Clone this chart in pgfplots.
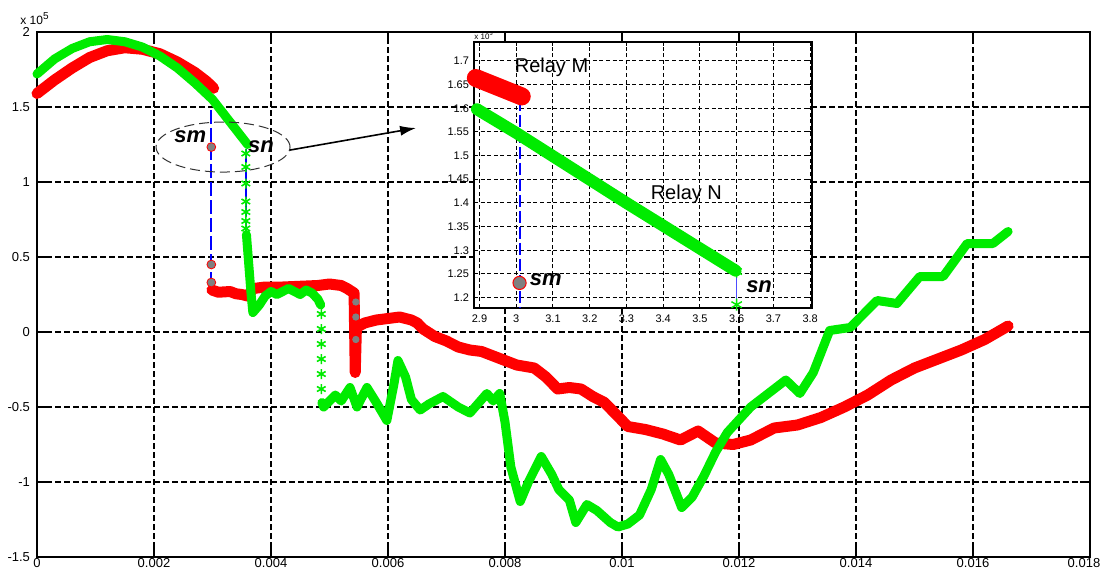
\documentclass[border=0pt]{standalone}
\usepackage{fontspec}
\setmainfont{Liberation Sans}
\usepackage{pgfplots}
\pgfplotsset{compat=1.18}
\usetikzlibrary{arrows.meta}
\definecolor{mred}{RGB}{255,0,0}
\definecolor{mgreen}{RGB}{0,235,0}
\definecolor{mgray}{RGB}{128,128,128}
\begin{document}
\begin{tikzpicture}
\begin{axis}[
  at={(0,0)}, anchor=south west,
  scale only axis, width=526.5pt, height=262.5pt,
  xmin=0, xmax=0.018, ymin=-1.5, ymax=2,
  scaled x ticks=false, scaled y ticks=false,
  xtick={0,0.002,0.004,0.006,0.008,0.01,0.012,0.014,0.016,0.018},
  xticklabels={0,0.002,0.004,0.006,0.008,0.01,0.012,0.014,0.016,{\hspace*{-6pt}0.018}},
  ytick={-1.5,-1,-0.5,0,0.5,1,1.5,2},
  yticklabels={-1.5,-1,-0.5,0,0.5,1,1.5,2},
  tick label style={font=\fontsize{6.5}{7}\selectfont},
  xticklabel style={inner sep=1pt, yshift=0.5pt},
  grid=major,
  major grid style={black, line width=0.6pt, dash pattern=on 3pt off 1.5pt},
  tick align=inside, major tick length=5pt,
  every tick/.style={black, line width=0.6pt},
  axis line style={black, line width=0.8pt},
  clip=false,
]
% blue dashed guide lines
\addplot[blue, line width=0.9pt, dash pattern=on 7pt off 2pt] coordinates {(0.00298,1.48) (0.00298,0.30)};
\addplot[blue, line width=0.9pt, dash pattern=on 7pt off 2pt] coordinates {(0.00357,1.22) (0.00357,0.55)};
% Relay M (red)
\addplot[mred, line width=5.5pt, line cap=round, line join=round] coordinates {
(0,1.59)(0.0003,1.68)(0.0006,1.76)(0.0009,1.83)(0.0012,1.875)(0.0015,1.895)(0.0018,1.885)
(0.0021,1.855)(0.0024,1.80)(0.0027,1.73)(0.0029,1.67)(0.00302,1.625)};
\addplot[mred, line width=5.5pt, line cap=round, line join=round] coordinates {
(0.00299,0.28)(0.0031,0.265)(0.0033,0.27)(0.0034,0.255)(0.0035,0.25)(0.0036,0.24)(0.0037,0.29)
(0.0039,0.3)(0.0042,0.3)(0.0045,0.305)(0.0048,0.31)(0.005,0.32)(0.0052,0.31)(0.0053,0.29)(0.00542,0.26)
(0.00544,-0.27)(0.00546,0.03)(0.0056,0.06)(0.0058,0.08)(0.006,0.09)(0.0062,0.10)(0.0064,0.08)
(0.0065,0.06)(0.0066,0.02)(0.0068,-0.03)(0.007,-0.06)(0.0072,-0.1)(0.0074,-0.12)(0.0076,-0.13)
(0.0078,-0.16)(0.008,-0.19)(0.0082,-0.22)(0.0085,-0.24)(0.0087,-0.3)(0.0089,-0.38)(0.0091,-0.37)
(0.0093,-0.38)(0.0095,-0.43)(0.0097,-0.47)(0.0099,-0.55)(0.0101,-0.63)(0.0104,-0.65)(0.0107,-0.68)
(0.011,-0.72)(0.0113,-0.66)(0.0116,-0.74)(0.0119,-0.75)(0.0122,-0.72)(0.0126,-0.64)(0.013,-0.62)
(0.0134,-0.57)(0.0138,-0.50)(0.0142,-0.42)(0.0146,-0.32)(0.015,-0.24)(0.0154,-0.18)(0.0158,-0.12)
(0.0162,-0.05)(0.0166,0.04)};
% gray markers on the red drop at 0.0055
\addplot[only marks, mark=*, mark size=1.6pt, mark options={fill=mgray, draw=mgray}] coordinates {
(0.00545,0.2)(0.00545,0.1)(0.00545,-0.05)};
% Relay N (green)
\addplot[mgreen, line width=4.5pt, line cap=round, line join=round] coordinates {
(0,1.72)(0.0003,1.82)(0.0006,1.89)(0.0009,1.935)(0.0012,1.95)(0.0015,1.935)(0.0018,1.90)
(0.0021,1.84)(0.0024,1.76)(0.0027,1.66)(0.003,1.55)(0.0033,1.40)(0.0036,1.25)};
\addplot[only marks, mgreen, mark=asterisk, mark size=2.5pt, line width=0.8pt] coordinates {
(0.00357,1.19)(0.00357,1.1)(0.00357,0.99)(0.00357,0.87)(0.00357,0.80)(0.00357,0.74)(0.00357,0.69)
(0.00486,0.12)(0.00486,0.02)(0.00486,-0.08)(0.00486,-0.18)(0.00486,-0.28)(0.00486,-0.38)};
\addplot[mgreen, line width=4.5pt, line cap=round, line join=round] coordinates {
(0.00358,0.65)(0.00362,0.45)(0.00366,0.25)(0.00369,0.13)(0.0038,0.18)(0.0039,0.24)(0.004,0.27)
(0.0041,0.25)(0.0042,0.27)(0.0043,0.29)(0.0044,0.27)(0.0045,0.25)(0.0046,0.28)(0.0047,0.26)
(0.0048,0.22)(0.00485,0.18)};
\addplot[mgreen, line width=4.5pt, line cap=round, line join=round] coordinates {
(0.00487,-0.47)(0.0049,-0.5)(0.005,-0.46)(0.0051,-0.42)(0.0052,-0.46)(0.00535,-0.37)(0.00547,-0.5)
(0.00564,-0.37)(0.0058,-0.47)(0.00598,-0.59)(0.0061,-0.35)(0.00617,-0.19)(0.0063,-0.3)(0.0064,-0.45)
(0.00655,-0.52)(0.0067,-0.48)(0.00694,-0.43)(0.0072,-0.5)(0.0074,-0.54)(0.00769,-0.41)(0.0078,-0.46)
(0.00791,-0.41)(0.008,-0.6)(0.0081,-0.9)(0.00826,-1.13)(0.0084,-1.0)(0.00862,-0.83)(0.0088,-0.95)
(0.00892,-1.05)(0.0091,-1.12)(0.00921,-1.27)(0.0094,-1.15)(0.00957,-1.19)(0.0098,-1.27)(0.00993,-1.3)
(0.0101,-1.28)(0.0103,-1.22)(0.0105,-1.05)(0.01066,-0.85)(0.0108,-0.95)(0.01102,-1.17)(0.0112,-1.1)
(0.0114,-0.96)(0.0116,-0.8)(0.0118,-0.67)(0.0122,-0.5)(0.0126,-0.38)(0.0128,-0.32)(0.01304,-0.41)
(0.01327,-0.27)(0.01355,0.01)(0.0139,0.03)(0.01436,0.21)(0.0147,0.19)(0.01509,0.37)(0.01549,0.37)
(0.0159,0.59)(0.01634,0.59)(0.0166,0.67)};
% sm markers
\addplot[only marks, mark=*, mark size=2.2pt, mark options={fill=mgray, draw=mred, line width=0.4pt}] coordinates {
(0.00298,1.233)(0.00298,0.45)(0.00298,0.33)};
% annotations
\node[font=\fontsize{11}{12}\selectfont\bfseries\itshape] at (axis cs:0.00262,1.30) {sm};
\node[font=\fontsize{11}{12}\selectfont\bfseries\itshape] at (axis cs:0.00383,1.233) {sn};
\draw[black!80, line width=0.5pt, dash pattern=on 5pt off 2.5pt] (axis cs:0.00318,1.233) ellipse [x radius=33.5pt, y radius=12.5pt];
\draw[black, line width=0.8pt, -{Latex[length=8pt,width=5pt]}] (axis cs:0.004325,1.213) -- (axis cs:0.00648,1.36);
\node[anchor=south west, inner sep=0pt, font=\fontsize{6}{7}\selectfont] at ([xshift=-8.5pt,yshift=3.5pt]rel axis cs:0,1) {x 10\textsuperscript{5}};
\end{axis}
% inset
\begin{axis}[
  at={(218.5pt,124.5pt)}, anchor=south west,
  scale only axis, width=169pt, height=133pt,
  xmin=2.885, xmax=3.805, ymin=1.178, ymax=1.74,
  scaled x ticks=false, scaled y ticks=false,
  xtick={2.9,3,3.1,3.2,3.3,3.4,3.5,3.6,3.7,3.8},
  xticklabels={2.9,3,3.1,3.2,3.3,3.4,3.5,3.6,3.7,3.8},
  ytick={1.2,1.25,1.3,1.35,1.4,1.45,1.5,1.55,1.6,1.65,1.7},
  yticklabels={1.2,1.25,1.3,1.35,1.4,1.45,1.5,1.55,1.6,1.65,1.7},
  tick label style={font=\fontsize{5.5}{6}\selectfont},
  yticklabel style={xshift=1pt},
  grid=major,
  major grid style={black, line width=0.5pt, dash pattern=on 2pt off 1.3pt},
  tick align=inside, major tick length=1.8pt,
  every tick/.style={black, line width=0.5pt},
  axis line style={black, line width=0.8pt},
  axis background/.style={fill=white},
  clip=false,
]
\addplot[blue, line width=0.7pt, dash pattern=on 6pt off 2pt] coordinates {(3.01,1.62) (3.01,1.178)};
\addplot[blue!70, line width=0.8pt] coordinates {(3.6,1.25) (3.6,1.18)};
\addplot[mred, line width=9pt, line cap=round] coordinates {(2.89,1.664)(3.015,1.625)};
\addplot[mgreen, line width=6pt, line cap=round] coordinates {(2.893,1.598)(3.0,1.548)(3.3,1.40)(3.597,1.257)};
\addplot[only marks, mgreen, mark=asterisk, mark size=3pt, line width=0.7pt] coordinates {(3.6,1.255)(3.6,1.185)};
\addplot[only marks, mark=*, mark size=3.3pt, mark options={fill=mgray, draw=mred, line width=0.5pt}] coordinates {(3.009,1.231)};
\node[anchor=west, inner sep=0pt, font=\fontsize{11}{12}\selectfont\bfseries\itshape] at (axis cs:3.036,1.238) {sm};
\node[anchor=west, inner sep=0pt, font=\fontsize{11}{12}\selectfont\bfseries\itshape] at (axis cs:3.625,1.224) {sn};
\node[font=\fontsize{10}{11}\selectfont] at (axis cs:3.096,1.686) {Relay M};
\node[font=\fontsize{10}{11}\selectfont] at (axis cs:3.463,1.418) {Relay N};
\node[anchor=south west, inner sep=0pt, font=\fontsize{4}{5}\selectfont] at ([xshift=0pt,yshift=1pt]rel axis cs:0,1) {x 10\textsuperscript{5}};
\end{axis}
\pgfresetboundingbox
\useasboundingbox (-18.5pt,-11pt) rectangle (532.5pt,278.5pt);
\end{tikzpicture}
\end{document}
